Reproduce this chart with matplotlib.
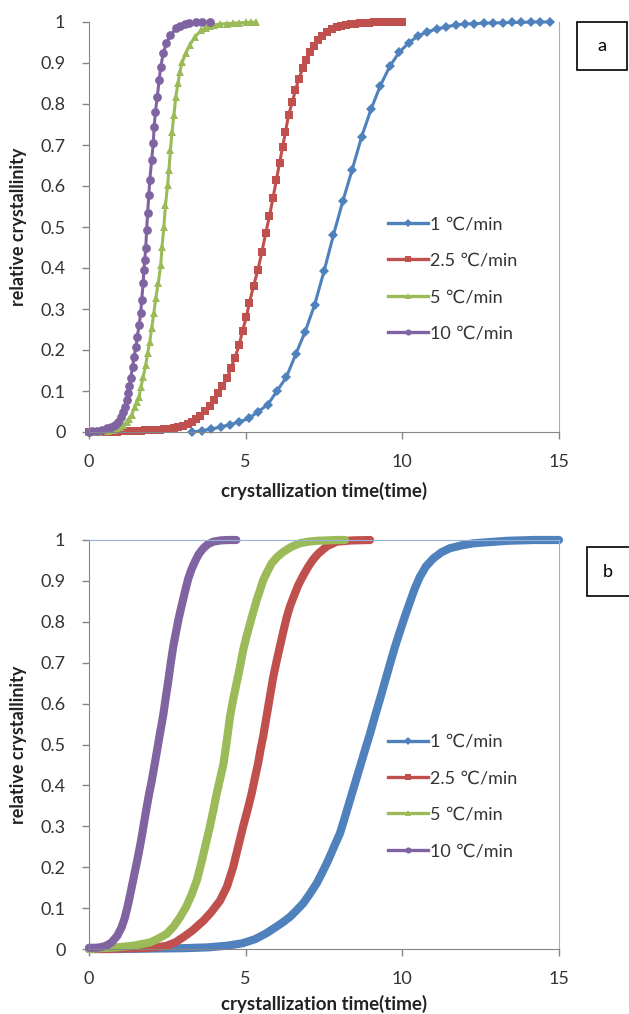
import matplotlib
matplotlib.use("Agg")
import matplotlib.pyplot as plt
from matplotlib.lines import Line2D
from matplotlib.patches import Rectangle

plt.rcParams['font.family'] = ['Lato', 'DejaVu Sans']

# ---------------- data, panel a ----------------
a_blue_t = [3.3, 3.6, 3.9, 4.2, 4.5, 4.8, 5.1, 5.4, 5.7, 6.0, 6.3, 6.6, 6.9, 7.2, 7.5, 7.8, 8.1, 8.4, 8.7, 9.0,
            9.3, 9.6, 9.9, 10.2, 10.5, 10.8, 11.1, 11.4, 11.7, 12.0, 12.3, 12.6, 12.9, 13.2, 13.5, 13.8, 14.1, 14.4, 14.7]
a_blue_y = [0.0, 0.003, 0.007, 0.012, 0.018, 0.025, 0.033, 0.05, 0.066, 0.1, 0.134, 0.19, 0.245, 0.31, 0.392, 0.48,
            0.563, 0.64, 0.72, 0.787, 0.845, 0.892, 0.926, 0.949, 0.966, 0.976, 0.983, 0.988, 0.993, 0.995,
            0.996, 0.997, 0.998, 0.998, 0.999, 0.999, 1.0, 1.0, 1.0]

a_red_t = [0.0, 0.15, 0.3, 0.45, 0.6, 0.75, 0.9, 1.05, 1.2, 1.35, 1.5, 1.65, 1.8, 1.95, 2.1, 2.25, 2.4, 2.55, 2.7, 2.85,
           3.0, 3.15, 3.3, 3.42, 3.54, 3.69, 3.85, 3.99, 4.12, 4.26, 4.42, 4.52, 4.66, 4.79, 4.9, 5.02, 5.12, 5.25,
           5.39, 5.52, 5.64, 5.76, 5.87, 5.98, 6.08, 6.18, 6.27, 6.37, 6.49, 6.59, 6.7, 6.82, 6.94, 7.06, 7.18, 7.3,
           7.45, 7.6, 7.75, 7.9, 8.05, 8.2, 8.35, 8.5, 8.65, 8.8, 8.95, 9.1, 9.25, 9.4, 9.55, 9.7, 9.85, 10.0]
a_red_y = [0, 0, 0, 0.001, 0.001, 0.001, 0.001, 0.002, 0.002, 0.002, 0.003, 0.003, 0.004, 0.004, 0.005, 0.006, 0.007,
           0.008, 0.01, 0.012, 0.015, 0.019, 0.025, 0.031, 0.04, 0.051, 0.063, 0.078, 0.094, 0.112, 0.132, 0.155,
           0.181, 0.212, 0.246, 0.281, 0.315, 0.356, 0.395, 0.44, 0.485, 0.527, 0.57, 0.615, 0.655, 0.696, 0.732,
           0.773, 0.806, 0.834, 0.862, 0.887, 0.907, 0.926, 0.942, 0.955, 0.966, 0.975, 0.982, 0.987, 0.99, 0.993,
           0.995, 0.996, 0.997, 0.998, 0.998, 0.999, 0.999, 0.999, 1.0, 1.0, 1.0, 1.0]

a_green_t = [0.0, 0.15, 0.3, 0.45, 0.6, 0.77, 0.88, 0.99, 1.1, 1.2, 1.28, 1.36, 1.46, 1.53, 1.6, 1.66, 1.73, 1.81,
             1.87, 1.94, 2.0, 2.07, 2.13, 2.21, 2.29, 2.33, 2.39, 2.44, 2.51, 2.55, 2.6, 2.65, 2.71, 2.77, 2.84, 2.9,
             2.98, 3.09, 3.22, 3.38, 3.59, 3.72, 3.85, 4.0, 4.17, 4.4, 4.6, 4.8, 5.02, 5.18, 5.32]
a_green_y = [0, 0, 0.001, 0.002, 0.003, 0.005, 0.008, 0.013, 0.018, 0.025, 0.032, 0.041, 0.062, 0.074, 0.086, 0.11,
             0.135, 0.163, 0.192, 0.22, 0.253, 0.29, 0.326, 0.363, 0.407, 0.452, 0.5, 0.554, 0.602, 0.639, 0.688,
             0.732, 0.773, 0.818, 0.85, 0.879, 0.903, 0.924, 0.944, 0.964, 0.98, 0.986, 0.99, 0.993, 0.995, 0.996,
             0.997, 0.998, 0.999, 0.999, 1.0]

a_purple_t = [0.0, 0.1, 0.25, 0.4, 0.56, 0.7, 0.83, 0.93, 1.01, 1.08, 1.15, 1.2, 1.25, 1.29, 1.33, 1.39, 1.44, 1.5,
              1.54, 1.6, 1.65, 1.68, 1.73, 1.75, 1.78, 1.81, 1.84, 1.87, 1.91, 1.94, 2.0, 2.05, 2.08, 2.12, 2.18,
              2.24, 2.29, 2.37, 2.47, 2.6, 2.79, 2.92, 3.06, 3.2, 3.43, 3.6, 3.85]
a_purple_y = [0.001, 0.002, 0.003, 0.005, 0.009, 0.013, 0.018, 0.025, 0.037, 0.048, 0.062, 0.077, 0.094, 0.112,
              0.131, 0.159, 0.184, 0.208, 0.232, 0.261, 0.29, 0.322, 0.363, 0.395, 0.42, 0.448, 0.493, 0.533, 0.578,
              0.615, 0.663, 0.704, 0.745, 0.781, 0.818, 0.859, 0.891, 0.924, 0.948, 0.968, 0.985, 0.99, 0.994, 0.997,
              0.999, 1.0, 1.0]

# ---------------- data, panel b ----------------
b_blue_t = [0.0, 1.0, 2.0, 3.0, 3.8, 4.4, 4.9, 5.3, 5.65, 5.99, 6.2, 6.42, 6.63, 6.84, 7.05, 7.27, 7.45, 7.64, 7.82,
            8.01, 8.17, 8.33, 8.49, 8.65, 8.81, 8.97, 9.13, 9.29, 9.45, 9.61, 9.77, 9.93, 10.09, 10.25, 10.4, 10.56,
            10.75, 10.99, 11.25, 11.52, 11.9, 12.27, 12.8, 13.33, 14.18, 15.0]
b_blue_y = [0.0, 0.0, 0.001, 0.002, 0.004, 0.008, 0.014, 0.024, 0.038, 0.055, 0.066, 0.079, 0.095, 0.112, 0.135,
            0.161, 0.188, 0.218, 0.25, 0.283, 0.323, 0.364, 0.405, 0.446, 0.487, 0.527, 0.57, 0.612, 0.655, 0.698,
            0.74, 0.778, 0.815, 0.85, 0.882, 0.91, 0.935, 0.955, 0.97, 0.98, 0.987, 0.992, 0.995, 0.998, 1.0, 1.0]

b_red_t = [0.0, 0.5, 1.0, 1.5, 1.95, 2.25, 2.48, 2.75, 3.01, 3.3, 3.65, 3.9, 4.18, 4.4, 4.6, 4.76, 4.92, 5.06, 5.19,
           5.3, 5.4, 5.48, 5.56, 5.67, 5.78, 5.88, 5.99, 6.1, 6.2, 6.3, 6.41, 6.55, 6.68, 6.85, 7.0, 7.15, 7.32, 7.6,
           7.91, 8.4, 8.97]
b_red_y = [0.0, 0.0, 0.001, 0.002, 0.003, 0.005, 0.008, 0.016, 0.029, 0.045, 0.069, 0.09, 0.118, 0.152, 0.2, 0.25,
           0.3, 0.34, 0.38, 0.42, 0.455, 0.49, 0.52, 0.57, 0.62, 0.665, 0.705, 0.742, 0.776, 0.808, 0.837, 0.865,
           0.89, 0.915, 0.935, 0.952, 0.967, 0.985, 0.996, 0.999, 1.0]

b_green_t = [0.0, 0.35, 0.88, 1.41, 1.95, 2.2, 2.48, 2.7, 2.9, 3.1, 3.28, 3.45, 3.6, 3.73, 3.86, 3.97, 4.07, 4.18,
             4.29, 4.4, 4.5, 4.6, 4.71, 4.82, 4.92, 5.03, 5.14, 5.25, 5.35, 5.46, 5.56, 5.7, 5.83, 6.0, 6.2, 6.45,
             6.73, 7.0, 7.27, 7.6, 7.9, 8.17]
b_green_y = [0.0, 0.002, 0.004, 0.008, 0.016, 0.025, 0.037, 0.055, 0.077, 0.103, 0.134, 0.17, 0.215, 0.258, 0.3,
             0.34, 0.378, 0.415, 0.452, 0.51, 0.568, 0.61, 0.65, 0.69, 0.731, 0.765, 0.796, 0.826, 0.853, 0.878,
             0.902, 0.924, 0.943, 0.958, 0.971, 0.983, 0.992, 0.996, 0.998, 0.999, 1.0, 1.0]

b_purple_t = [0.0, 0.2, 0.35, 0.55, 0.72, 0.9, 1.04, 1.15, 1.25, 1.36, 1.47, 1.58, 1.68, 1.76, 1.84, 1.92, 2.0, 2.08,
              2.16, 2.26, 2.37, 2.45, 2.53, 2.61, 2.69, 2.77, 2.85, 2.93, 3.01, 3.09, 3.17, 3.27, 3.38, 3.5, 3.65,
              3.8, 3.97, 4.2, 4.45, 4.7]
b_purple_y = [0.003, 0.003, 0.004, 0.008, 0.016, 0.032, 0.053, 0.078, 0.11, 0.15, 0.191, 0.232, 0.273, 0.31, 0.346,
              0.38, 0.41, 0.445, 0.48, 0.525, 0.572, 0.615, 0.655, 0.7, 0.74, 0.772, 0.804, 0.831, 0.857, 0.882,
              0.906, 0.928, 0.947, 0.965, 0.98, 0.99, 0.996, 0.999, 1.0, 1.0]

labels = ['1 ℃/min', '2.5 ℃/min', '5 ℃/min', '10 ℃/min']
colors = ['#4F81BD', '#C0504D', '#9BBB59', '#8064A2']
markers = ['D', 's', '^', 'o']
x_ticks = [0, 5, 10, 15]
y_ticks = [0, 0.1, 0.2, 0.3, 0.4, 0.5, 0.6, 0.7, 0.8, 0.9, 1]
y_ticklabels = ['0', '0.1', '0.2', '0.3', '0.4', '0.5', '0.6', '0.7', '0.8', '0.9', '1']

W, H = 629, 1014
fig = plt.figure(figsize=(W / 100, H / 100), dpi=100)
ax_a = fig.add_axes([89 / W, (H - 432) / H, 470 / W, 410 / H])
ax_b = fig.add_axes([89 / W, (H - 949) / H, 470 / W, 409 / H])

# panel a: line + markers
a_series = [(a_blue_t, a_blue_y), (a_red_t, a_red_y), (a_green_t, a_green_y), (a_purple_t, a_purple_y)]
a_msize = [5.6, 6.2, 6.0, 6.3]
for (t, y), c, m, ms in zip(a_series, colors, markers, a_msize):
    ax_a.plot(t, y, color=c, lw=2.2, marker=m, markersize=ms, markeredgewidth=0, clip_on=False)

# panel b: dense data, drawn as thick lines
b_series = [(b_blue_t, b_blue_y), (b_red_t, b_red_y), (b_green_t, b_green_y), (b_purple_t, b_purple_y)]
for (t, y), c in zip(b_series, colors):
    ax_b.plot(t, y, color=c, lw=5.9, solid_capstyle='round', solid_joinstyle='round', clip_on=False)

handles = [Line2D([], [], color=c, lw=2.4, marker=m, markersize=4.4, markeredgewidth=0)
           for c, m in zip(colors, markers)]

FS = 13
for ax, lab_y in [(ax_a, -0.122), (ax_b, -0.112)]:
    ax.set_xlim(0, 15)
    ax.set_ylim(0, 1)
    ax.set_xticks(x_ticks)
    ax.set_yticks(y_ticks)
    ax.set_yticklabels(y_ticklabels)
    ax.tick_params(direction='out', length=5, width=1, color='#868686', labelsize=FS,
                   labelcolor='#333333')
    ax.tick_params(axis='y', pad=12)
    ax.tick_params(axis='x', pad=11)
    for s in ['left', 'bottom']:
        ax.spines[s].set_color('#868686')
    ax.spines['right'].set_color('#95B3D7')
    ax.spines['top'].set_color('#95B3D7')
    ax.set_xlabel('crystallization time(time)', fontsize=13.5, fontweight='bold', color='#222222')
    ax.set_ylabel('relative crystallinity', fontsize=13, fontweight='bold', color='#222222')
    ax.xaxis.set_label_coords(0.5, lab_y)
    ax.yaxis.set_label_coords(-0.132, 0.5)
    ax.legend(handles, labels, loc='upper left', bbox_to_anchor=(0.636, 0.526), frameon=False,
              fontsize=FS, handlelength=2.2, handletextpad=0.15, labelspacing=1.13,
              borderpad=0, borderaxespad=0, labelcolor='#333333')

ax_a.spines['top'].set_visible(False)

# label boxes
fig.add_artist(Rectangle((577 / W, (H - 70) / H), 50 / W, 48 / H, transform=fig.transFigure,
                         facecolor='white', edgecolor='black', lw=1.2))
fig.text(602 / W, (H - 46) / H, 'a', ha='center', va='center', fontsize=FS)
fig.add_artist(Rectangle((587 / W, (H - 596) / H), 60 / W, 49 / H, transform=fig.transFigure,
                         facecolor='white', edgecolor='black', lw=1.2))
fig.text(608 / W, (H - 572) / H, 'b', ha='center', va='center', fontsize=FS)

fig.savefig('out.png', dpi=100)
